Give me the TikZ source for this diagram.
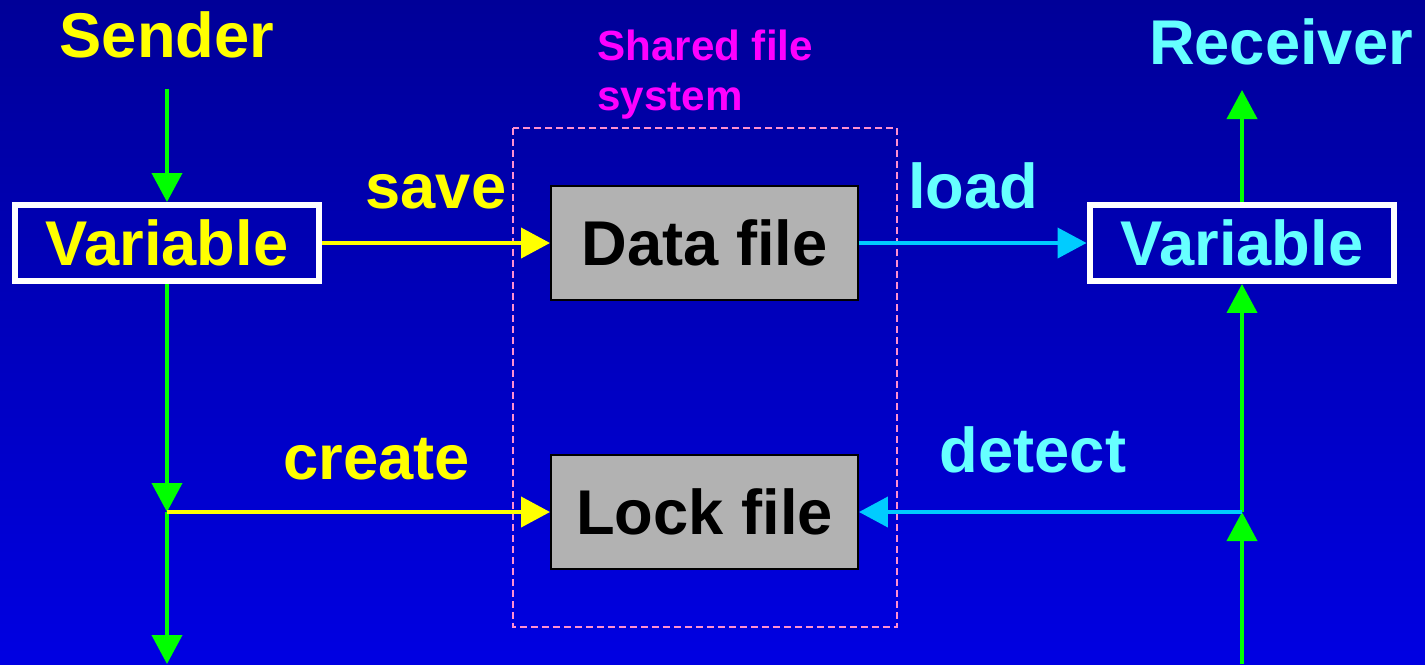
\documentclass[tikz,border=0pt]{standalone}
\usepackage{fontspec}
\setmainfont{Liberation Sans}
\usepackage{tikz}
\usetikzlibrary{arrows.meta,positioning,calc}
\usepackage{xcolor}

\definecolor{bgtop}{HTML}{000098}
\definecolor{bgbot}{HTML}{0000E2}
\definecolor{sendcol}{HTML}{FFFF00}
\definecolor{recvcol}{HTML}{66FFFF}
\definecolor{loadcol}{HTML}{00CCFF}
\definecolor{ctrlcol}{HTML}{00FF00}
\definecolor{fscol}{HTML}{FF00FF}
\definecolor{fsline}{HTML}{FF8FCF}
\definecolor{filecol}{HTML}{B2B2B2}

\tikzset{
    big/.style={font=\fontsize{36}{40}\selectfont\bfseries},
    varbox/.style={draw=white, line width=0.12cm, minimum width=6.1cm,
        minimum height=1.52cm, inner sep=0pt, big},
    filebox/.style={draw=black, fill=filecol, line width=0.04cm, minimum width=6.14cm,
        minimum height=2.29cm, inner sep=0pt, big, text=black},
    flow/.style={line width=0.08cm, -{Triangle[length=0.58cm,width=0.6cm]}},
    gflow/.style={flow, ctrlcol},
    yflow/.style={flow, sendcol},
    cflow/.style={flow, loadcol}
}

\begin{document}
\begin{tikzpicture}[x=0.02cm, y=-0.02cm]
            % background
            \shade[top color=bgtop, bottom color=bgbot] (0,0) rectangle (1425,664);
            \useasboundingbox (0,0) rectangle (1425,664);

            % shared file system
            \draw[fsline, line width=0.03cm, dash pattern=on 0.14cm off 0.08cm] (513,128) rectangle (897,627);
            \node[anchor=base west, align=left, text=fscol, inner sep=0pt,
                font=\fontsize{24}{27.9}\selectfont\bfseries] (fs) at (597,110) {Shared file\\system};

            % sender side
            \node[big, text=sendcol, anchor=base] (sender) at (167,57) {Sender};
            \node[varbox, text=sendcol] (varS) at (167,243) {Variable};
            \coordinate (sTop) at (167,89);
            \coordinate (sJ) at (167,512);
            \coordinate (sBot) at (167,664);

            % receiver side
            \node[big, text=recvcol, anchor=base] (receiver) at (1281,64) {Receiver};
            \node[varbox, text=recvcol] (varR) at (1242,243) {Variable};
            \coordinate (rTop) at (1242,90);
            \coordinate (rJ) at (1242,512);
            \coordinate (rBot) at (1242,664);

            % files
            \node[filebox] (data) at (704.5,243) {Data file};
            \node[filebox] (lock) at (704.5,512) {Lock file};

            % labels
            \node[big, text=sendcol, anchor=base] (save) at (436,208) {save};
            \node[big, text=recvcol, anchor=base] (load) at (973,208) {load};
            \node[big, text=sendcol, anchor=base] (create) at (377,479) {create};
            \node[big, text=recvcol, anchor=base] (detect) at (1033,472) {detect};

            % connectors
            \draw[yflow] (varS.east) -- (data.west);
            \draw[cflow] (data.east) -- (varR.west);
            \draw[gflow] (sTop) -- (varS.north);
            \draw[gflow] (varS.south) -- (sJ);
            \draw[gflow] (sJ) -- (sBot);
            \draw[yflow] (sJ) -- (lock.west);
            \draw[gflow] (rBot) -- (rJ);
            \draw[gflow] (rJ) -- (varR.south);
            \draw[gflow] (varR.north) -- (rTop);
            \draw[cflow] (rJ) -- (lock.east);
        \end{tikzpicture}
\end{document}
